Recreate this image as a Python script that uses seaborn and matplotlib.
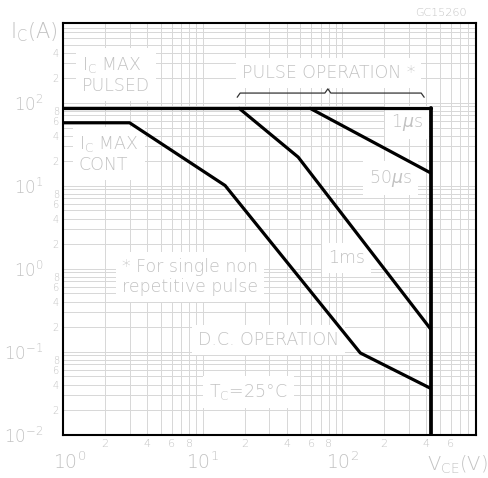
import numpy as np
import pandas as pd
import matplotlib
matplotlib.use("Agg")
import matplotlib.pyplot as plt
import matplotlib.transforms as mtransforms
import seaborn as sns
from matplotlib.ticker import FixedLocator, FuncFormatter

# ---------------- data ----------------
pulsed_v = [1, 430]
pulsed_i = [85, 85]

cont_v = [1, 3, 14.5, 135, 430]          # I_C max cont + D.C. operation
cont_i = [57, 57, 10, 0.096, 0.036]

us50_v = [59, 430]                        # upper pulse line
us50_i = [85, 14.2]

ms1_v = [18.3, 48.4, 430]                 # lower pulse line
ms1_i = [85, 22, 0.187]

vce_max_v = [430, 430]
vce_max_i = [0.01, 85]

x_major = [1, 10, 100]
x_major_labels = ["$10^{0}$", "$10^{1}$", "$10^{2}$"]
x_minor_labeled = [2, 4, 6, 8, 20, 40, 60, 80, 200, 400, 600]

y_major = [0.01, 0.1, 1, 10, 100]
y_major_labels = ["$10^{-2}$", "$10^{-1}$", "$10^{0}$", "$10^{1}$", "$10^{2}$"]
y_minor_labeled = [0.02, 0.04, 0.06, 0.08, 0.2, 0.4, 0.6, 0.8,
                   2, 4, 6, 8, 20, 40, 60, 80, 200, 400]

brace_left, brace_mid, brace_right, brace_level = 17.7, 79, 387, 130

# ---------------- style ----------------
sns.set_theme(style="white")
plt.rcParams["font.family"] = ["DejaVu Sans"]
plt.rcParams["font.weight"] = "light"
plt.rcParams["mathtext.fontset"] = "dejavusans"

TXT = "#c2c2c2"
GRID = "#d8d8d8"

fig = plt.figure(figsize=(4.89, 4.78), dpi=100)
ax = fig.add_axes([63 / 489, 1 - 434.5 / 478, 413 / 489, 411.5 / 478])
ax.set_xscale("log")
ax.set_yscale("log")
ax.set_xlim(1, 910)
ax.set_ylim(0.01, 908)

# grid at every 2..9 of each decade
def minors(lo_exp, hi_exp):
    out = []
    for e in range(lo_exp, hi_exp + 1):
        for m in range(2, 10):
            out.append(m * 10.0 ** e)
    return out

ax.xaxis.set_major_locator(FixedLocator(x_major))
ax.xaxis.set_minor_locator(FixedLocator(minors(0, 2)))
ax.yaxis.set_major_locator(FixedLocator(y_major))
ax.yaxis.set_minor_locator(FixedLocator(minors(-2, 2)))

ax.set_xticklabels(x_major_labels)
ax.set_yticklabels(y_major_labels)

def minor_fmt(labeled):
    def f(v, pos):
        for lv in labeled:
            if np.isclose(v, lv, rtol=1e-6):
                e = np.floor(np.log10(lv) + 1e-9)
                return str(int(round(lv / 10 ** e)))
        return ""
    return FuncFormatter(f)

ax.xaxis.set_minor_formatter(minor_fmt(x_minor_labeled))
ax.yaxis.set_minor_formatter(minor_fmt(y_minor_labeled))

ax.grid(True, which="both", color=GRID, lw=0.72)
ax.set_axisbelow(True)

ax.tick_params(axis="x", which="major", length=0, pad=12, labelsize=13.5, labelcolor=TXT)
ax.tick_params(axis="x", which="minor", length=0, pad=3, labelsize=8, labelcolor=TXT)
ax.tick_params(axis="y", which="major", length=0, pad=14, labelsize=12, labelcolor=TXT)
ax.tick_params(axis="y", which="minor", length=0, pad=3, labelsize=7, labelcolor=TXT)

# first x decade label sits a little to the right of its grid line
first = ax.xaxis.get_major_ticks()[0].label1
first.set_transform(first.get_transform() +
                    mtransforms.ScaledTranslation(7 / 100, 0, fig.dpi_scale_trans))

for s in ax.spines.values():
    s.set_color("black")
    s.set_linewidth(1.5)

# ---------------- curves ----------------
def draw(v, i, lw=2.3):
    df = pd.DataFrame({"V": v, "I": i})
    sns.lineplot(data=df, x="V", y="I", ax=ax, color="black", lw=lw,
                 sort=False, estimator=None, zorder=5)

draw(pulsed_v, pulsed_i)
draw(cont_v, cont_i)
draw(us50_v, us50_i)
draw(ms1_v, ms1_i)
draw(vce_max_v, vce_max_i, lw=2.7)
ax.set_xlabel("")
ax.set_ylabel("")

# brace above the pulse lines
tip = 0.89
bv = [brace_left, brace_left * 1.05, brace_mid / 1.05, brace_mid, brace_mid * 1.05,
      brace_right / 1.05, brace_right]
bi = [brace_level * tip, brace_level, brace_level, brace_level / tip, brace_level,
      brace_level, brace_level * tip]
sns.lineplot(x=bv, y=bi, ax=ax, color="#333333", lw=0.9, sort=False, estimator=None)

# ---------------- texts ----------------
box = dict(boxstyle="square,pad=0.35", fc="white", ec="none")
kw = dict(color=TXT, fontsize=12.5, bbox=box, zorder=3)

ax.text(1.37, 214, "I$_{\\mathrm{C}}$ MAX\nPULSED", ha="left", va="center",
        linespacing=1.1, **kw)
ax.text(1.30, 24, "I$_{\\mathrm{C}}$ MAX\nCONT", ha="left", va="center",
        linespacing=1.1, **kw)
ax.text(80, 226, "PULSE OPERATION *", ha="center", va="center", **kw)
ax.text(292, 58, "1$\\mu$s", ha="center", va="center", **kw)
ax.text(221, 12.3, "50$\\mu$s", ha="center", va="center", **kw)
ax.text(107, 1.34, "1ms", ha="center", va="center", **kw)
ax.text(25, 0.79, "* For single non\nrepetitive pulse", ha="right", va="center",
        multialignment="right", linespacing=1.1, **kw)
ax.text(29.7, 0.138, "D.C. OPERATION", ha="center", va="center", **kw)
ax.text(21.4, 0.0325, "T$_{\\mathrm{C}}$=25°C", ha="center", va="center", **kw)

fig.text(10 / 489, 1 - 32 / 478, "I$_{\\mathrm{C}}$(A)", color=TXT, fontsize=15,
         ha="left", va="center")
fig.text(441 / 489, 1 - 13 / 478, "GC15260", color=TXT, fontsize=8,
         ha="center", va="center")
fig.text(457 / 489, 1 - 465 / 478, "V$_{\\mathrm{CE}}$(V)", color=TXT, fontsize=14,
         ha="center", va="center")

fig.savefig("out.png", dpi=100, facecolor="white")
